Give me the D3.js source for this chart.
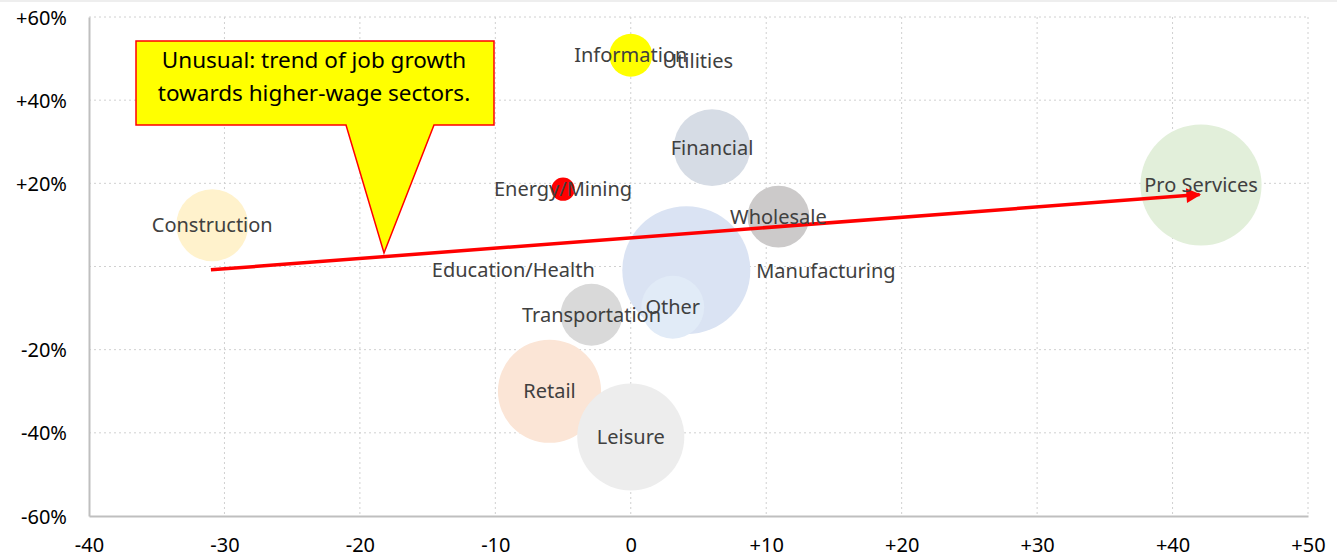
<!DOCTYPE html>
<html>
<head>
<meta charset="utf-8">
<script src="https://cdn.jsdelivr.net/npm/d3@7"></script>
<style>
  body { margin: 0; background: #fff; }
  svg { display: block; font-family: "Noto Sans", "Open Sans", sans-serif; }
</style>
</head>
<body>
<div id="chart"></div>
<script>
const WIDTH = 1343;
const HEIGHT = 558;
const MARGIN = { top: 17, right: 35, bottom: 42, left: 89 };

// sectors: x = wage change, y = job growth, size = employment (millions)
const sectors = ["Manufacturing", "Education/Health", "Other", "Utilities", "Information",
  "Financial", "Energy/Mining", "Wholesale", "Construction", "Pro Services",
  "Transportation", "Retail", "Leisure"];
const xValues = [4.0, 4.1, 3.1, 0.0, 0.0, 6.0, -5.0, 10.9, -30.9, 42.1, -2.9, -6.0, 0.0];
const yValues = [-1, -0.9, -9.8, 49.4, 50.8, 28.6, 18.6, 12.0, 9.9, 19.6, -11.6, -30.0, -41.0];
const sizes = [12.5, 24.0, 5.8, 0.5, 2.7, 8.6, 0.8, 5.6, 7.6, 21.5, 5.6, 15.6, 16.8];
const colors = ["#dae3f3", "#dae3f3", "#e1ebf7", "#ffff00", "#ffff00",
  "#d6dce5", "#ff0000", "#cccaca", "#fff2cc", "#e2efda",
  "#d9d9d9", "#fbe5d6", "#ededed"];

const xTicks = [-40, -30, -20, -10, 0, 10, 20, 30, 40, 50];
const yTicks = [-60, -40, -20, 0, 20, 40, 60];

// trend arrow, start and end in data units
const trendX = [-31, 42];
const trendY = [-0.8, 17.3];

const calloutLines = ["Unusual: trend of job growth", "towards higher-wage sectors."];

// some labels were pulled off their bubbles by hand
const labelShift = { "Manufacturing": 141, "Education/Health": -173, "Utilities": 67 };

const svg = d3.select("#chart").append("svg")
    .attr("width", WIDTH)
    .attr("height", HEIGHT);

// thin grey strip along the top edge
svg.append("rect")
    .attr("x", 0).attr("y", 0)
    .attr("width", 1337).attr("height", 2)
    .attr("fill", "#eeeeee");

const x = d3.scaleLinear().domain([-40, 50]).range([MARGIN.left, WIDTH - MARGIN.right]);
const y = d3.scaleLinear().domain([-60, 60]).range([HEIGHT - MARGIN.bottom, MARGIN.top]);
const r = d3.scaleSqrt().domain([0, 24]).range([0, 64]);

// gridlines
svg.append("g").selectAll("line.gx")
    .data(xTicks.slice(1))
    .enter().append("line")
    .attr("x1", d => x(d)).attr("x2", d => x(d))
    .attr("y1", y(60)).attr("y2", y(-60))
    .attr("stroke", "#d0d0d0")
    .attr("stroke-dasharray", "2,3");

svg.append("g").selectAll("line.gy")
    .data(yTicks.slice(1))
    .enter().append("line")
    .attr("x1", x(-40)).attr("x2", x(50))
    .attr("y1", d => y(d)).attr("y2", d => y(d))
    .attr("stroke", "#d0d0d0")
    .attr("stroke-dasharray", "2,3");

// axes
const xAxis = svg.append("g")
    .attr("transform", "translate(0," + y(-60) + ")")
    .call(d3.axisBottom(x).tickValues(xTicks).tickSize(0).tickPadding(22)
        .tickFormat(d => d > 0 ? "+" + d : d));
const yAxis = svg.append("g")
    .attr("transform", "translate(" + x(-40) + ",0)")
    .call(d3.axisLeft(y).tickValues(yTicks).tickSize(0).tickPadding(22)
        .tickFormat(d => d === 0 ? "" : (d > 0 ? "+" + d : d) + "%"));

[xAxis, yAxis].forEach(function (ax) {
    ax.select(".domain").attr("stroke", "#bfbfbf").attr("stroke-width", 2);
    ax.selectAll("text").attr("fill", "#000").style("font-size", "20px")
        .style("font-family", "'Noto Sans', sans-serif");
});
yAxis.selectAll("text").attr("dy", "0.35em");

// bubbles
const data = sectors.map(function (name, i) {
    return { name: name, x: xValues[i], y: yValues[i], size: sizes[i], color: colors[i] };
});

svg.append("g").selectAll("circle")
    .data(data)
    .enter().append("circle")
    .attr("cx", d => x(d.x))
    .attr("cy", d => y(d.y))
    .attr("r", d => r(d.size))
    .attr("fill", d => d.color);

// trend arrow
svg.append("defs").append("marker")
    .attr("id", "arrow")
    .attr("viewBox", "0 0 10 10")
    .attr("refX", 9).attr("refY", 5)
    .attr("markerWidth", 5).attr("markerHeight", 4.2)
    .attr("orient", "auto")
    .append("path")
    .attr("d", "M0,0L10,5L0,10Z")
    .attr("fill", "#ff0000");

svg.append("line")
    .attr("x1", x(trendX[0])).attr("y1", y(trendY[0]))
    .attr("x2", x(trendX[1])).attr("y2", y(trendY[1]))
    .attr("stroke", "#ff0000")
    .attr("stroke-width", 3.5)
    .attr("marker-end", "url(#arrow)");

// labels
svg.append("g").selectAll("text")
    .data(data)
    .enter().append("text")
    .attr("x", d => x(d.x) + (labelShift[d.name] || 0))
    .attr("y", d => y(d.y))
    .attr("dy", "0.35em")
    .attr("text-anchor", "middle")
    .attr("fill", "#404040")
    .style("font-size", "20px")
    .text(d => d.name);

// callout
const callout = svg.append("g");
callout.append("path")
    .attr("d", "M136,41H494V125H434L384,253L346,125H136Z")
    .attr("fill", "#ffff00")
    .attr("stroke", "#ff0000")
    .attr("stroke-width", 1.5)
    .attr("stroke-linejoin", "miter");

callout.selectAll("text")
    .data(calloutLines)
    .enter().append("text")
    .attr("x", 314)
    .attr("y", (d, i) => 60 + i * 33)
    .attr("dy", "0.35em")
    .attr("text-anchor", "middle")
    .attr("fill", "#000")
    .style("font-size", "22.5px")
    .text(d => d);
</script>
</body>
</html>
